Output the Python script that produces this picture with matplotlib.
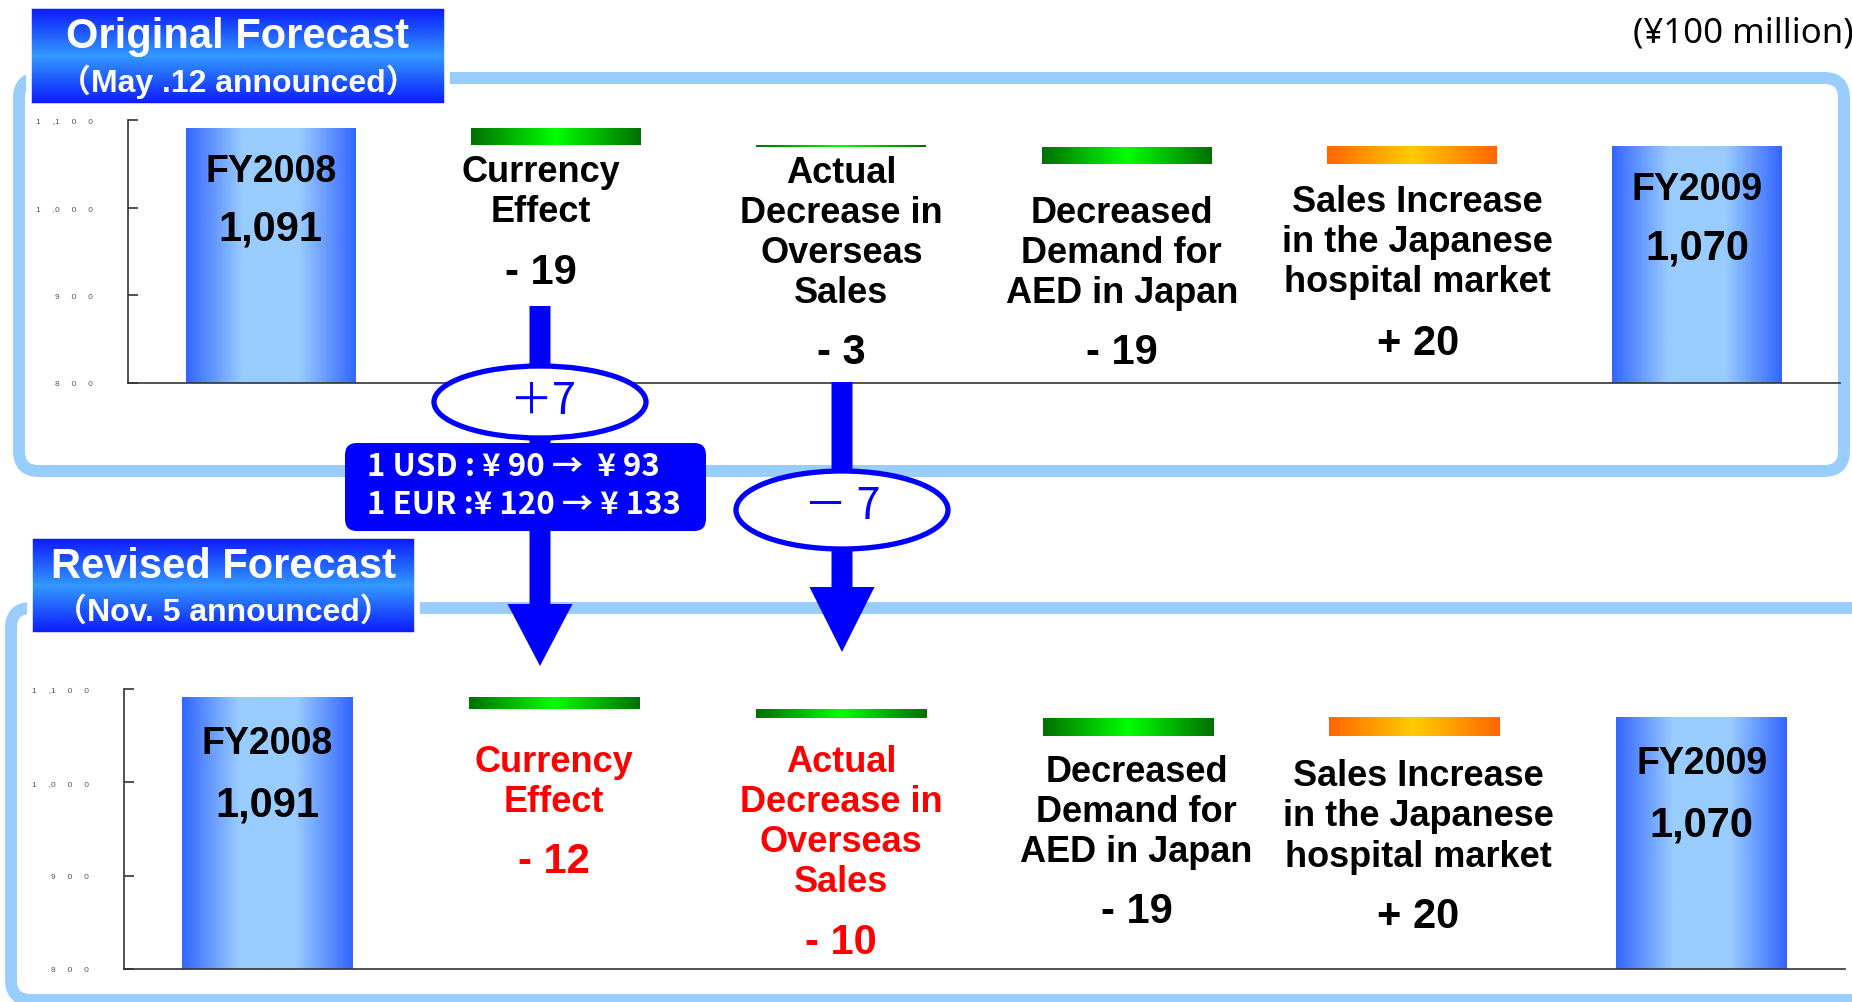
import numpy as np
import matplotlib
matplotlib.use('Agg')
import matplotlib.pyplot as plt
from matplotlib.colors import LinearSegmentedColormap
from matplotlib.patches import FancyBboxPatch, Rectangle, Ellipse, FancyArrow
from matplotlib.ticker import FuncFormatter, FixedLocator

plt.rcParams['font.family'] = ['Liberation Sans', 'DejaVu Sans']

#%% data
steps = ['FY2008', 'Currency\nEffect', 'Actual\nDecrease in\nOverseas\nSales',
         'Decreased\nDemand for\nAED in Japan',
         'Sales Increase\nin the Japanese\nhospital market', 'FY2009']
original = [1091, -19, -3, -19, 20, 1070]
revised = [1091, -12, -10, -19, 20, 1070]
yticks = [800, 900, 1000, 1100]
panel_titles = ['Original Forecast', 'Revised Forecast']
panel_dates = ['（May .12 announced）', '（Nov. 5 announced）']
rate_lines = ['1 USD : ¥ 90 →  ¥ 93', '1 EUR :¥ 120 → ¥ 133']
rate_effect = '＋7'
overseas_effect = '－ 7'
unit = '(¥100 million)'

#%% layout (label positions in data units, per panel)
label_y = [[None, 1018, 972, 949, 961, None],
           [None, 1001, 958, 969, 964, None]]
value_y = [[None, 927, 835, 835, 846, None],
           [None, 916, 829, 862, 857, None]]
label_dx = [[0, -0.054, 0, -0.017, 0.02, 0],
            [0, 0, 0, 0.03, 0.012, 0]]

W, H = 1852, 1003
fig = plt.figure(figsize=(W / 100, H / 100), dpi=100)

BLUE = LinearSegmentedColormap.from_list('b', ['#3366ff', '#99ccff', '#99ccff', '#3366ff'])
GREEN = LinearSegmentedColormap.from_list('g', ['#007000', '#00ff00', '#007000'])
ORANGE = LinearSegmentedColormap.from_list('o', ['#ff6600', '#ffcc00', '#ff6600'])
TITLE = LinearSegmentedColormap.from_list('t', ['#0a14ff', '#3399ff', '#0a14ff'])


def grad_fill(ax, patch, cmap, vertical=False, clamp=False):
      x0, y0 = patch.get_x(), patch.get_y()
      w, h = patch.get_width(), patch.get_height()
      y1 = y0 + h
      if clamp:
            lo, hi = ax.get_ylim()
            y0, y1 = max(y0, lo), min(y1, hi)
      g = np.linspace(0, 1, 256)
      g = g[:, None] if vertical else g[None, :]
      im = ax.imshow(g, extent=[x0, x0 + w, y0, y1], aspect='auto', cmap=cmap,
                     origin='lower', interpolation='bilinear',
                     zorder=patch.get_zorder())
      im.set_clip_path(patch)
      patch.set_facecolor('none')


def spaced(v, pos):
      s = f'{v:,.0f}'
      out = ''
      for i, ch in enumerate(s):
            if ch == ',':
                  out += '     ,'
            elif i > 0 and s[i - 1] != ',':
                  out += '     ' + ch
            else:
                  out += ch
      return out


def waterfall(ax, vals, red, ly, vy, dx):
      n = len(vals)
      ax.set_xlim(-0.5, n - 0.5)
      ax.set_ylim(yticks[0], yticks[-1])
      x = np.arange(n)
      bottoms, heights, cmaps = [], [], []
      run = 0
      for i, v in enumerate(vals):
            if i == 0 or i == n - 1:
                  bottoms.append(0); heights.append(v); cmaps.append(BLUE)
                  run = v
            else:
                  bottoms.append(min(run, run + v)); heights.append(abs(v))
                  cmaps.append(GREEN if v < 0 else ORANGE)
                  run += v
      bars = ax.bar(x, heights, bottom=bottoms, width=0.595, edgecolor='none', zorder=2)
      for b, cm in zip(bars, cmaps):
            grad_fill(ax, b, cm, clamp=True)

      for i, v in enumerate(vals):
            if i == 0 or i == n - 1:
                  ax.text(i, v - 49, steps[i], ha='center', va='center',
                          fontsize=27, fontweight='bold', zorder=4)
                  ax.text(i, v - 115, f'{v:,}', ha='center', va='center',
                          fontsize=30, fontweight='bold', zorder=4)
            else:
                  c = '#ff0000' if red[i] else 'black'
                  ax.text(i + dx[i], ly[i], steps[i], ha='center', va='center', fontsize=26,
                          fontweight='bold', color=c, linespacing=1.19, zorder=4)
                  txt = f'- {abs(v)}' if v < 0 else f'+ {v}'
                  ax.text(i + dx[i], vy[i], txt, ha='center', va='center', fontsize=30,
                          fontweight='bold', color=c, zorder=4)

      ax.set_xlim(-0.5, n - 0.5)
      ax.set_ylim(yticks[0], yticks[-1])
      ax.yaxis.set_major_locator(FixedLocator(yticks))
      ax.yaxis.set_major_formatter(FuncFormatter(spaced))
      ax.tick_params(axis='y', direction='in', length=7, width=1.2, color='#333333',
                     pad=25, labelsize=6, labelcolor='#555555')
      ax.set_xticks([])
      for s in ['top', 'right']:
            ax.spines[s].set_visible(False)
      for s in ['left', 'bottom']:
            ax.spines[s].set_color('#333333')
            ax.spines[s].set_linewidth(1.2)
      ax.patch.set_alpha(0)


#%% background: frames and title boxes (pixel coords)
bg = fig.add_axes([0, 0, 1, 1], zorder=0)
bg.axis('off')
for (x0, y0, w, h) in [(19, 79, 1825, 393), (11, 609, 1860, 392)]:
      bg.add_patch(FancyBboxPatch((x0, y0), w, h, boxstyle='round,pad=0,rounding_size=20',
                                  fc='white', ec='#99ccff', lw=8.6, zorder=1))
boxes = [(29, 7, 418, 100), (30, 537, 387, 99)]
for k, (x0, y0, w, h) in enumerate(boxes):
      r = Rectangle((x0, y0), w, h, ec='white', lw=4, zorder=2)
      bg.add_patch(r)
      grad_fill(bg, r, TITLE, vertical=True)
      bg.add_patch(Rectangle((x0, y0), w, h, fc='none', ec='white', lw=4, zorder=3))
      cx = x0 + w / 2
      bg.text(cx, y0 + 30, panel_titles[k], ha='center', va='center', color='white',
              fontsize=30, fontweight='bold', zorder=4)
      bg.text(cx, y0 + 75, panel_dates[k], ha='center', va='center', color='white',
              fontsize=23, fontweight='bold', zorder=4,
              family=['Liberation Sans', 'Noto Sans CJK JP'])
bg.text(1633, 33, unit, ha='left', va='center', fontsize=25,
        family=['Noto Sans', 'DejaVu Sans'])
bg.set_xlim(0, W)
bg.set_ylim(H, 0)

#%% charts
ax1 = fig.add_axes([128 / W, 1 - 384 / H, (1840 - 128) / W, (384 - 121) / H], zorder=1)
ax2 = fig.add_axes([124 / W, 1 - 970 / H, (1845 - 124) / W, (970 - 690) / H], zorder=1)
changed = [a != b for a, b in zip(original, revised)]
waterfall(ax1, original, [False] * len(original), label_y[0], value_y[0], label_dx[0])
waterfall(ax2, revised, changed, label_y[1], value_y[1], label_dx[1])

#%% foreground: arrows, ellipses, rate box
fg = fig.add_axes([0, 0, 1, 1], zorder=3)
fg.axis('off')
fg.patch.set_alpha(0)
fg.add_patch(FancyArrow(540, 307, 0, 360, width=21, head_width=65, head_length=62,
                        length_includes_head=True, fc='#0000ff', ec='none', zorder=1))
fg.add_patch(FancyArrow(842, 383, 0, 270, width=21, head_width=65, head_length=65,
                        length_includes_head=True, fc='#0000ff', ec='none', zorder=1))
fg.add_patch(Ellipse((540, 403), 212, 72, fc='white', ec='#0000ff', lw=3.8, zorder=2))
fg.add_patch(Ellipse((842, 511), 212, 78, fc='white', ec='#0000ff', lw=3.8, zorder=2))
fg.text(543, 402, rate_effect, ha='center', va='center', fontsize=31, color='#0000ff',
        family=['Noto Sans CJK JP', 'DejaVu Sans'], zorder=3)
fg.text(842, 507, overseas_effect, ha='center', va='center', fontsize=31, color='#0000ff',
        family=['Noto Sans CJK JP', 'DejaVu Sans'], zorder=3)
fg.add_patch(FancyBboxPatch((345, 444), 361, 88, boxstyle='round,pad=0,rounding_size=12',
                            fc='#0000ff', ec='none', zorder=3))
for k, line in enumerate(rate_lines):
      fg.text(367, 467 + 38 * k, line, ha='left', va='center', color='white', fontsize=22.5,
              fontweight='bold', family=['Noto Sans CJK JP', 'DejaVu Sans'], zorder=4)
fg.set_xlim(0, W)
fg.set_ylim(H, 0)

fig.savefig('out.png', dpi=100, facecolor='white')
